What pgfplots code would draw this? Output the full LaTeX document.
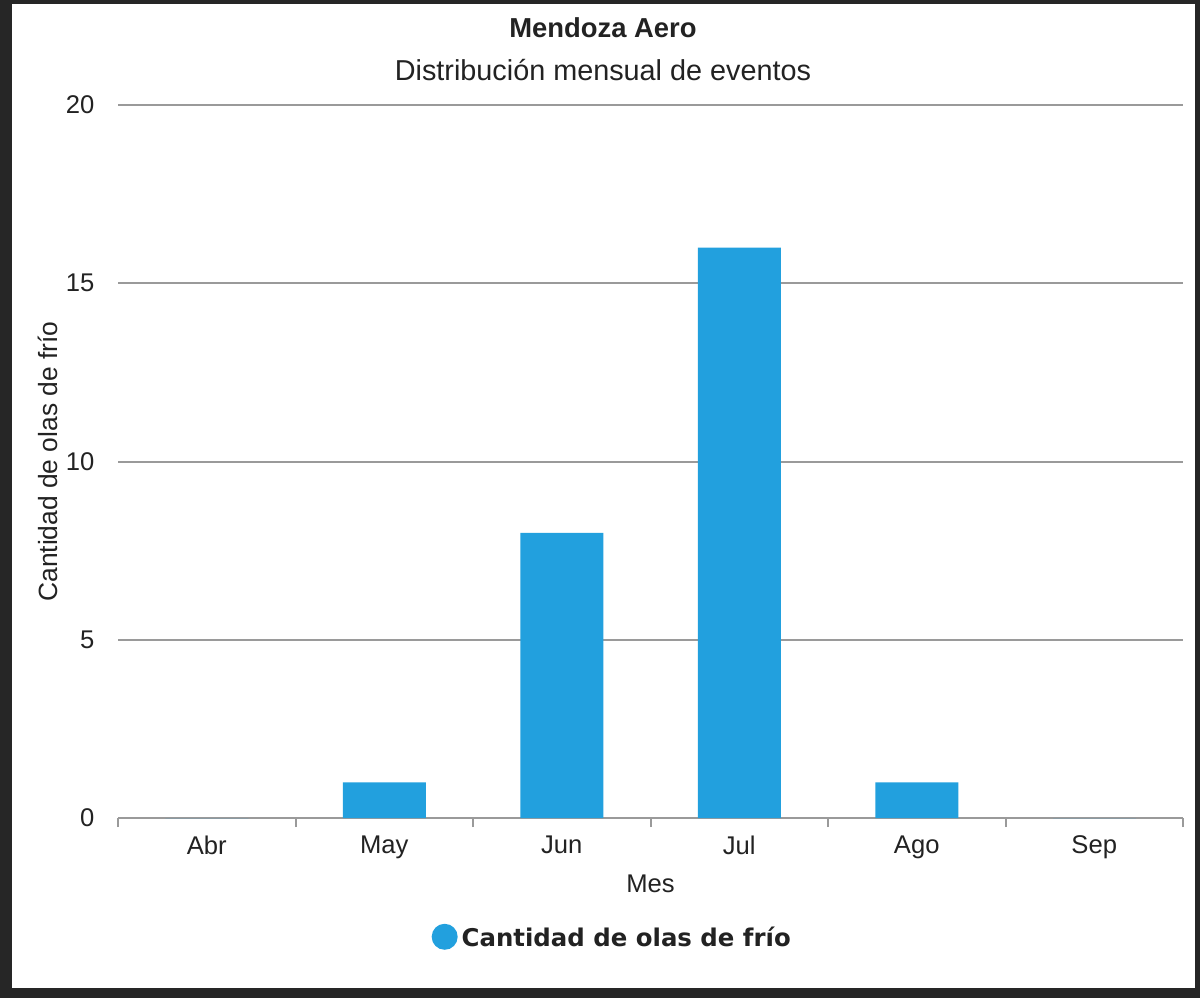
\documentclass[border=0pt]{standalone}
\usepackage{pgfplots}
\pgfplotsset{compat=1.18}
\usepackage{fontspec}
\setmainfont{Liberation Sans}
\newfontfamily\legfont{DejaVu Sans}
\definecolor{barblue}{HTML}{22A0DE}
\definecolor{gridgray}{HTML}{9A9A9A}
\definecolor{txt}{HTML}{222222}
\definecolor{frame}{HTML}{262626}
\begin{document}
\begin{tikzpicture}[x=1pt,y=1pt]
\fill[frame] (0,0) rectangle (600,499);
\fill[white] (6,5) rectangle (597.5,497);
\begin{axis}[
  at={(59pt,90pt)}, anchor=south west,
  scale only axis, width=532.5pt, height=356.5pt,
  xmin=-0.5, xmax=5.5, ymin=0, ymax=20,
  xtick={0,...,5},
  xticklabels={Abr,May,Jun,Jul,Ago,Sep},
  minor xtick={-0.5,0.5,...,5.5},
  ytick={0,5,10,15,20},
  axis x line*=bottom, axis y line*=left,
  y axis line style={draw=none},
  x axis line style={draw=gridgray, line width=1pt, -},
  major x tick style={draw=none},
  minor x tick style={draw=gridgray, line width=1pt},
  minor tick length=4.5pt,
  tick align=outside,
  ytick style={draw=none},
  ymajorgrids, grid style={draw=gridgray, line width=1pt},
  tick label style={font=\fontsize{12.8}{15}\selectfont, text=txt},
  /pgf/number format/assume math mode=true,
  xticklabel style={yshift=-1pt},
  yticklabel style={xshift=-4pt},
  xlabel={Mes}, xlabel style={font=\fontsize{12.8}{15}\selectfont, text=txt, yshift=-1pt},
  ylabel={Cantidad de olas de frío}, ylabel style={font=\fontsize{13.2}{15}\selectfont, text=txt, yshift=-3pt},
  legend style={at={(0.465,-0.168)}, anchor=center, draw=none, fill=none,
    font=\legfont\bfseries\fontsize{12.2}{14}\selectfont, text=txt},
  legend image code/.code={\fill[barblue] (0.45em,0.05em) circle (6.5pt);},
  clip=false,
]
\addplot[ybar, bar width=41.5pt, fill=barblue, draw=none] coordinates {
(0,0) (1,1) (2,8) (3,16) (4,1) (5,0)};
\addlegendentry{Cantidad de olas de frío}
\end{axis}
\node[font=\bfseries\fontsize{13.7}{16}\selectfont, text=txt] at (301.5,485) {Mendoza Aero};
\node[font=\fontsize{14.4}{17}\selectfont, text=txt] at (301.5,464) {Distribución mensual de eventos};
\end{tikzpicture}
\end{document}
